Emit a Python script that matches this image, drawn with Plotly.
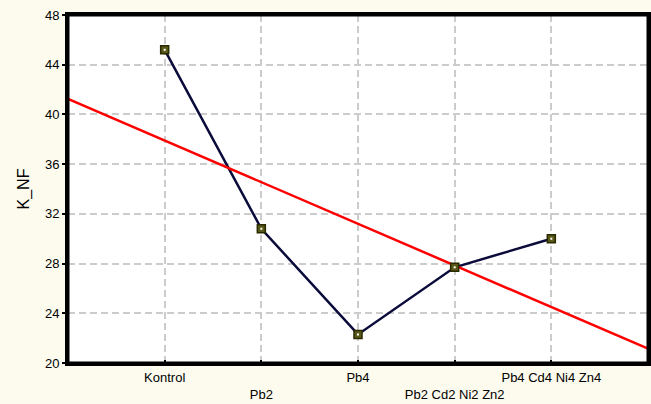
import numpy as np
import plotly.graph_objects as go

# Treatment groups and measured K_NF values
groups = ["Kontrol", "Pb2", "Pb4", "Pb2 Cd2 Ni2 Zn2", "Pb4 Cd4 Ni4 Zn4"]
k_nf = [45.2, 30.8, 22.3, 27.7, 30.0]
y_ticks = [20, 24, 28, 32, 36, 40, 44, 48]

x_pos = np.arange(1, len(groups) + 1)

# Linear trend across the groups, spanning the full x range
slope, intercept = np.polyfit(x_pos, k_nf, 1)
trend_x = np.array([0, len(groups) + 1])
trend_y = slope * trend_x + intercept

# Alternate label rows so long names do not collide
tick_text = [g if i % 2 == 0 else "<br>" + g for i, g in enumerate(groups)]

fig = go.Figure()
fig.add_trace(go.Scatter(
    x=x_pos, y=k_nf, mode="lines",
    line=dict(color="#0b0b3b", width=2.5),
    showlegend=False,
))
fig.add_trace(go.Scatter(
    x=trend_x, y=trend_y, mode="lines",
    line=dict(color="#ff0000", width=2.5),
    showlegend=False,
))
fig.add_trace(go.Scatter(
    x=x_pos, y=k_nf, mode="markers",
    marker=dict(symbol="square", size=8, color="#5a5a18",
                line=dict(color="#2a2a00", width=1.5)),
    showlegend=False,
))
fig.add_trace(go.Scatter(
    x=x_pos, y=k_nf, mode="markers",
    marker=dict(symbol="square", size=2, color="#ffffff"),
    showlegend=False, hoverinfo="skip",
))

grid_style = dict(showgrid=True, gridcolor="#cccccc", gridwidth=2, griddash="7px,4px")
axis_line = dict(showline=True, linecolor="#000000", linewidth=3, mirror=True,
                 ticklen=3, tickwidth=2, tickcolor="#000000", zeroline=False)

fig.update_layout(
    width=651, height=404,
    margin=dict(l=68, r=0, t=15, b=41),
    paper_bgcolor="#fdfbee",
    plot_bgcolor="#ffffff",
    font=dict(family="Liberation Sans, Arial, sans-serif", size=13, color="#000000"),
    # black frame drawn over the plot area edges
    shapes=[dict(type="rect", xref="paper", yref="paper", x0=0, x1=1, y0=0, y1=1,
                 line=dict(color="#000000", width=3), layer="above")],
)
fig.update_xaxes(
    range=[0, len(groups) + 1],
    tickmode="array", tickvals=x_pos, ticktext=tick_text, tickangle=0,
    ticks="inside", **grid_style, **axis_line,
)
fig.update_yaxes(
    range=[20, 48],
    tickmode="array", tickvals=y_ticks,
    ticks="outside", **grid_style, **axis_line,
    title=dict(text="K_NF", standoff=12),
)

fig.write_html("out.html")
